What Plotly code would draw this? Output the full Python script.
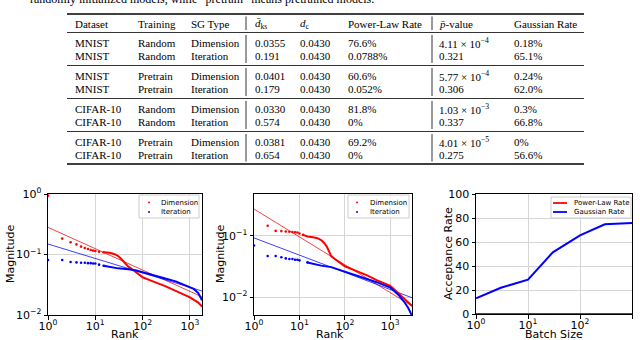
import plotly.graph_objects as go

W, H = 640, 340

# ---- table values ----
datasets = ["MNIST", "MNIST", "MNIST", "MNIST", "CIFAR-10", "CIFAR-10", "CIFAR-10", "CIFAR-10"]
training = ["Random", "Random", "Pretrain", "Pretrain", "Random", "Random", "Pretrain", "Pretrain"]
sg_type = ["Dimension", "Iteration"] * 4
d_ks = ["0.0355", "0.191", "0.0401", "0.179", "0.0330", "0.574", "0.0381", "0.654"]
d_c = ["0.0430"] * 8
pl_rate = ["76.6%", "0.0788%", "60.6%", "0.052%", "81.8%", "0%", "69.2%", "0%"]
p_value = ["4.11 × 10<sup>−4</sup>", "0.321", "5.77 × 10<sup>−4</sup>", "0.306",
           "1.03 × 10<sup>−3</sup>", "0.337", "4.01 × 10<sup>−5</sup>", "0.275"]
g_rate = ["0.18%", "65.1%", "0.24%", "62.0%", "0.3%", "66.8%", "0%", "56.6%"]
headers = ["Dataset", "Training", "SG Type", "<i>d̄</i><sub>ks</sub>", "<i>d</i><sub>c</sub>",
           "Power-Law Rate", "<i>p̄</i>-value", "Gaussian Rate"]

# ---- left plot (rank vs magnitude) ----
rank1_red = [1, 2, 3, 4, 5, 6, 7, 8, 9, 10, 12, 15, 20, 25, 30, 35, 40, 50, 60, 70, 80,
             100, 150, 200, 300, 500, 700, 1000, 1500, 1800]
mag1_red = [0.94, 0.183, 0.159, 0.147, 0.135, 0.128, 0.123, 0.119, 0.116, 0.114, 0.111,
            0.109, 0.107, 0.102, 0.095, 0.085, 0.075, 0.063, 0.057, 0.052, 0.047,
            0.042, 0.037, 0.034, 0.030, 0.025, 0.022, 0.0195, 0.016, 0.0138]
rank1_blue = [1, 2, 3, 4, 5, 6, 7, 8, 9, 10, 12, 15, 20, 30, 50, 70, 100, 200, 300, 500,
              1000, 1200, 1500, 1800]
mag1_blue = [0.081, 0.081, 0.075, 0.074, 0.073, 0.073, 0.072, 0.072, 0.071, 0.071, 0.068,
             0.065, 0.062, 0.059, 0.057, 0.055, 0.051, 0.043, 0.040, 0.036, 0.029,
             0.027, 0.023, 0.0175]
fit1_rank = [1, 1800]
fit1_red = [0.281, 0.020]
fit1_blue = [0.149, 0.0249]

# ---- middle plot ----
rank2_red = [2, 3, 4, 5, 6, 7, 8, 9, 10, 12, 15, 20, 25, 30, 35, 40, 50, 60, 70, 100,
             200, 300, 500, 1000, 2000, 3000]
mag2_red = [0.147, 0.121, 0.120, 0.118, 0.117, 0.116, 0.115, 0.114, 0.110, 0.104, 0.098,
            0.095, 0.092, 0.086, 0.077, 0.067, 0.047, 0.042, 0.039, 0.032, 0.026, 0.023,
            0.019, 0.0153, 0.0095, 0.0072]
rank2_blue = [1, 2, 3, 4, 5, 6, 7, 8, 9, 10, 15, 20, 30, 50, 70, 100, 200, 300, 500,
              1000, 1500, 2000, 2500, 3000]
mag2_blue = [0.070, 0.047, 0.047, 0.045, 0.043, 0.042, 0.042, 0.041, 0.041, 0.040, 0.037,
             0.035, 0.0328, 0.031, 0.0286, 0.026, 0.022, 0.020, 0.0176, 0.0144, 0.011,
             0.0085, 0.0066, 0.005]
fit2_rank = [1, 3000]
fit2_red = [0.275, 0.0072]
fit2_blue = [0.093, 0.0098]

# ---- right plot ----
batch_sizes = [1, 3, 10, 30, 100, 300, 1000]
gaussian_curve = [13.1, 21.9, 28.6, 51.4, 65.6, 74.7, 75.8]
power_law_curve = [0, 0, 0, 0, 0, 0, 0]


def fx(x):
    return x / W


def fy(y):
    return 1 - y / H


RED = "#ff0000"
BLUE = "#0000ff"
SERIF = "Liberation Serif"
SANS = "DejaVu Sans"

fig = go.Figure()


def dots_and_curve(x, y, color, xa, ya, split):
    # isolated low-rank points as dots, dense tail drawn as a connected curve
    fig.add_trace(go.Scatter(x=x[:split], y=y[:split], mode="markers", xaxis=xa, yaxis=ya,
                             marker=dict(color=color, size=2.6), showlegend=False))
    fig.add_trace(go.Scatter(x=x[split - 1:], y=y[split - 1:], mode="lines", xaxis=xa, yaxis=ya,
                             line=dict(color=color, width=2), showlegend=False))


def fit_line(x, y, color, xa, ya):
    fig.add_trace(go.Scatter(x=x, y=y, mode="lines", xaxis=xa, yaxis=ya, opacity=0.75,
                             line=dict(color=color, width=1), showlegend=False))


# plot 1
fit_line(fit1_rank, fit1_red, RED, "x", "y")
fit_line(fit1_rank, fit1_blue, BLUE, "x", "y")
dots_and_curve(rank1_red, mag1_red, RED, "x", "y", 12)
dots_and_curve(rank1_blue, mag1_blue, BLUE, "x", "y", 12)
# plot 2
fit_line(fit2_rank, fit2_red, RED, "x2", "y2")
fit_line(fit2_rank, fit2_blue, BLUE, "x2", "y2")
dots_and_curve(rank2_red, mag2_red, RED, "x2", "y2", 10)
dots_and_curve(rank2_blue, mag2_blue, BLUE, "x2", "y2", 11)
# plot 3
fig.add_trace(go.Scatter(x=batch_sizes, y=power_law_curve, mode="lines", xaxis="x3", yaxis="y3",
                         line=dict(color=RED, width=2), showlegend=False))
fig.add_trace(go.Scatter(x=batch_sizes, y=gaussian_curve, mode="lines", xaxis="x3", yaxis="y3",
                         line=dict(color=BLUE, width=2), showlegend=False))

axis_common = dict(showline=True, linecolor="black", linewidth=1, mirror=True,
                   ticks="outside", ticklen=3.5, tickcolor="black", automargin=False,
                   showgrid=True, gridcolor="#d6d6d6", gridwidth=1, zeroline=False,
                   tickfont=dict(family=SANS, size=11, color="black"))
x_common = dict(axis_common, type="log", tickvals=[1, 10, 100, 1000],
                ticktext=["10<sup>0</sup>", "10<sup>1</sup>", "10<sup>2</sup>", "10<sup>3</sup>"],
                ticklabelstandoff=-3)


def pow_ticks(exps):
    return [10.0 ** e for e in exps], ["10<sup>%s</sup>" % str(e).replace("-", "−") for e in exps]


y1v, y1t = pow_ticks([-2, -1, 0])
y2v, y2t = pow_ticks([-2, -1])

fig.update_layout(
    width=W, height=H, margin=dict(l=0, r=0, t=0, b=0, autoexpand=False),
    paper_bgcolor="white", plot_bgcolor="white", showlegend=False,
    xaxis=dict(x_common, domain=[fx(48), fx(202)], range=[0, 3.255], anchor="y"),
    yaxis=dict(axis_common, type="log", domain=[fy(315), fy(194)], range=[-2, 0],
               tickvals=y1v, ticktext=y1t, anchor="x"),
    xaxis2=dict(x_common, domain=[fx(254), fx(412)], range=[0, 3.477], anchor="y2"),
    yaxis2=dict(axis_common, type="log", domain=[fy(315), fy(194)], range=[-2.29, -0.315],
                tickvals=y2v, ticktext=y2t, anchor="x2"),
    xaxis3=dict(x_common, domain=[fx(476), fx(632)], range=[0, 3], anchor="y3"),
    yaxis3=dict(axis_common, domain=[fy(314), fy(194)], range=[0, 100],
                tickvals=[0, 20, 40, 60, 80, 100], anchor="x3"),
)

annotations = []
shapes = []

# caption fragment cut at the top of the page
annotations.append(dict(text="randomly initialized models, while “pretrain” means pretrained models.",
                        x=fx(376), y=fy(-1), xref="paper", yref="paper", xanchor="right",
                        yanchor="middle", showarrow=False,
                        font=dict(family=SERIF, size=12, color="black")))

# axis titles
title_font = dict(family=SANS, size=11, color="black")
for tx, ty, txt, ang in [(125, 334, "Rank", 0), (330, 334, "Rank", 0), (554, 334, "Batch Size", 0),
                         (10, 254, "Magnitude", -90), (220, 254, "Magnitude", -90),
                         (448, 254, "Acceptance Rate", -90)]:
    annotations.append(dict(text=txt, x=fx(tx), y=fy(ty), xref="paper", yref="paper",
                            xanchor="center", yanchor="middle", textangle=ang,
                            showarrow=False, font=title_font))

# table
col_x = [73, 136, 189, 253, 298, 346, 437, 512]
row_y = [43, 56, 76, 89, 109, 122, 142, 155]
header_y = 24
for cx, h in zip(col_x, headers):
    annotations.append(dict(text=h, x=fx(cx), y=fy(header_y), xref="paper", yref="paper",
                            xanchor="left", yanchor="middle", showarrow=False,
                            font=dict(family=SERIF, size=11, color="black")))
columns = [datasets, training, sg_type, d_ks, d_c, pl_rate, p_value, g_rate]
for cx, col in zip(col_x, columns):
    for ry, val in zip(row_y, col):
        annotations.append(dict(text=val, x=fx(cx), y=fy(ry), xref="paper", yref="paper",
                                xanchor="left", yanchor="middle", showarrow=False,
                                font=dict(family=SERIF, size=11, color="black")))

rules = [(14, 1.3), (32.5, 0.8), (65.5, 0.8), (98.5, 0.8), (131.5, 0.8), (164, 1.3)]
for ry, lw in rules:
    shapes.append(dict(type="line", xref="paper", yref="paper", x0=fx(67), x1=fx(584),
                       y0=fy(ry), y1=fy(ry), line=dict(color="black", width=lw)))
for vx in [246, 432]:
    for (a, _), (b, _) in zip(rules[:-1], rules[1:]):
        shapes.append(dict(type="line", xref="paper", yref="paper", x0=fx(vx), x1=fx(vx),
                           y0=fy(a + 2.5), y1=fy(b - 2.5), line=dict(color="black", width=0.8)))


# hand-drawn legends (matplotlib style boxes)
def legend_box(x0, x1, y0, y1):
    shapes.append(dict(type="rect", xref="paper", yref="paper", x0=fx(x0), x1=fx(x1),
                       y0=fy(y1), y1=fy(y0), line=dict(color="#cccccc", width=1),
                       fillcolor="rgba(255,255,255,0.8)", layer="above"))


def legend_text(x, y, text):
    annotations.append(dict(text=text, x=fx(x), y=fy(y), xref="paper", yref="paper",
                            xanchor="left", yanchor="middle", showarrow=False,
                            font=dict(family=SANS, size=7, color="black")))


def legend_dot(x, y, color):
    shapes.append(dict(type="circle", xref="paper", yref="paper", x0=fx(x - 1), x1=fx(x + 1),
                       y0=fy(y + 1), y1=fy(y - 1), fillcolor=color, line=dict(width=0),
                       layer="above"))


legend_box(139, 199, 195, 218)
legend_dot(149, 202.5, RED)
legend_dot(149, 212, BLUE)
legend_text(159, 202.5, "Dimension")
legend_text(159, 212, "Iteration")

legend_box(348, 409, 195, 218)
legend_dot(357, 202.5, RED)
legend_dot(357, 212, BLUE)
legend_text(368, 202.5, "Dimension")
legend_text(368, 212, "Iteration")

legend_box(551, 631, 197, 218)
shapes.append(dict(type="line", xref="paper", yref="paper", x0=fx(553), x1=fx(567),
                   y0=fy(203), y1=fy(203), line=dict(color=RED, width=1.8), layer="above"))
shapes.append(dict(type="line", xref="paper", yref="paper", x0=fx(553), x1=fx(567),
                   y0=fy(212), y1=fy(212), line=dict(color=BLUE, width=1.8), layer="above"))
legend_text(572, 203, "Power-Law Rate")
legend_text(572, 212, "Gaussian Rate")

fig.update_layout(annotations=annotations, shapes=shapes)

fig.write_html("out.html", config={"displayModeBar": False},
               post_script="document.body.style.margin='0';")
